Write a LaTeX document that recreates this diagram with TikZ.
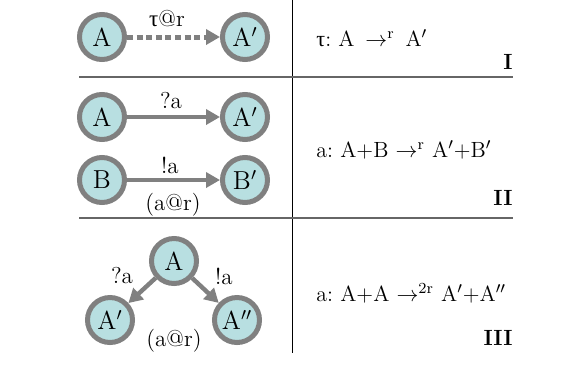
\documentclass[tikz,border=0pt]{standalone}
\usepackage{fontspec}
\newfontfamily\grk{Liberation Serif}
\usetikzlibrary{arrows.meta}
\definecolor{cellfill}{RGB}{184,223,225}
\definecolor{ringgray}{RGB}{128,128,128}
\frenchspacing
\begin{document}
\begin{tikzpicture}[x=0.5pt,y=-0.5pt,
  proc/.style={circle,draw=ringgray,fill=cellfill,line width=2.5pt,
    minimum size=22.5pt,inner sep=0pt,font=\fontsize{13}{15}\selectfont},
  tr/.style={ringgray,line width=2.2pt,-{Triangle[length=7pt,width=7.5pt]}},
  lbl/.style={inner sep=0pt,font=\fontsize{11.5}{13}\selectfont},
  rule/.style={inner sep=0pt,anchor=west,font=\fontsize{11}{13}\selectfont},
  num/.style={inner sep=0pt,anchor=east,font=\fontsize{11}{13}\selectfont\bfseries}]
\useasboundingbox (0,0) rectangle (565,376);
% table rules
\draw[line width=0.5pt] (292,0) -- (292,353);
\draw[black!60,line width=0.8pt] (79,77) -- (513,77);
\draw[black!60,line width=0.8pt] (79,218) -- (513,218);
% I
\node[proc] (a0) at (102,37) {A};
\node[proc] (a0p) at (245,37) {A$'$};
\draw[tr,line width=2.5pt,dash pattern=on 3pt off 1.8pt] (a0) -- (a0p);
\node[lbl] (t0) at (167,19) {{\grk τ}@r};
\node[rule] (r0) at (316,38) {{\grk τ}: A\ \,$\rightarrow^{\mathrm{r}}$\ \,A$'$};
\node[num] (n0) at (513,62) {I};
% II
\node[proc] (a1) at (102,117) {A};
\node[proc] (a1p) at (245,117) {A$'$};
\node[proc] (b1) at (102,180) {B};
\node[proc] (b1p) at (245,180) {B$'$};
\draw[tr] (a1) -- (a1p);
\draw[tr] (b1) -- (b1p);
\node[lbl] (q1) at (171,101) {?a};
\node[lbl] (e1) at (170,165) {!a};
\node[lbl] (t1) at (173,205) {(a@r)};
\node[rule] (r1) at (316,150) {a: A+B $\rightarrow^{\mathrm{r}}$ A$'$+B$'$};
\node[num] (n1) at (513,198) {II};
% III
\node[proc] (a2) at (174,261) {A};
\node[proc] (a2p) at (110,320) {A$'$};
\node[proc] (a2pp) at (237,320) {A$''$};
\draw[tr] (a2) -- (a2p);
\draw[tr] (a2) -- (a2pp);
\node[lbl] (q2) at (122,276) {?a};
\node[lbl] (e2) at (224,276) {!a};
\node[lbl] (t2) at (174,341) {(a@r)};
\node[rule] (r2) at (316,293) {a: A+A $\rightarrow^{\mathrm{2r}}$ A$'$+A$''$};
\node[num] (n2) at (513,338) {III};
\end{tikzpicture}
\end{document}
